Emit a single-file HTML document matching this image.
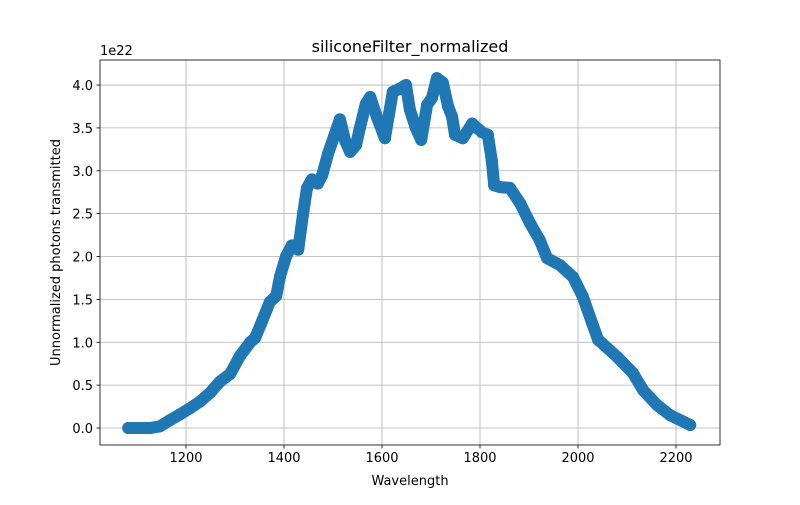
<!DOCTYPE html>
<html><head><meta charset="utf-8"><style>
html,body{margin:0;padding:0;background:#fff;}
svg text{font-family:"DejaVu Sans","Liberation Sans",sans-serif;fill:#000;}
</style></head><body>
<svg id="chart" width="800" height="500" xmlns="http://www.w3.org/2000/svg">
<rect x="0" y="0" width="800" height="500" fill="#fff"/>
<g id="grid"></g>
<g id="series"></g>
<g id="axes"></g>
</svg>
<script>
const wavelengths = [1082,1127,1147,1167,1188,1208,1229,1249,1269,1290,1310,1331,1341,1355,1371,1384,1392,1404,1416,1429,1439,1447,1457,1469,1478,1490,1502,1514,1525,1535,1547,1555,1567,1576,1590,1606,1622,1637,1649,1657,1669,1680,1692,1702,1712,1724,1735,1743,1749,1765,1784,1804,1816,1824,1829,1841,1861,1882,1902,1922,1937,1963,1990,2010,2029,2041,2080,2112,2133,2161,2188,2229];
const photons = [0,0,0.02,0.09,0.16,0.23,0.31,0.41,0.54,0.63,0.84,1.0,1.05,1.24,1.47,1.54,1.77,2.0,2.13,2.08,2.5,2.8,2.9,2.85,2.95,3.2,3.4,3.6,3.35,3.22,3.3,3.5,3.78,3.86,3.62,3.38,3.92,3.96,4.0,3.71,3.5,3.36,3.77,3.85,4.08,4.03,3.75,3.63,3.42,3.38,3.55,3.45,3.42,3.12,2.83,2.81,2.8,2.62,2.39,2.19,1.98,1.9,1.76,1.53,1.22,1.03,0.83,0.64,0.44,0.27,0.15,0.035];
const xTicks = [1200,1400,1600,1800,2000,2200];
const yTicks = [0,0.5,1.0,1.5,2.0,2.5,3.0,3.5,4.0];
const yTickLabels = ["0.0","0.5","1.0","1.5","2.0","2.5","3.0","3.5","4.0"];

const L=100,R=720,T=60,B=445;
const xmin=1024.5,xmax=2289.8,ymin=-0.198,ymax=4.292;
const X=v=>L+(v-xmin)/(xmax-xmin)*(R-L);
const Y=v=>B-(v-ymin)/(ymax-ymin)*(B-T);
const NS="http://www.w3.org/2000/svg";
function mk(tag,attrs,parent){const e=document.createElementNS(NS,tag);for(const k in attrs)e.setAttribute(k,attrs[k]);parent.appendChild(e);return e;}
const grid=document.getElementById('grid'),axes=document.getElementById('axes'),series=document.getElementById('series');

xTicks.forEach(t=>{
  const gl=mk('line',{x1:X(t),x2:X(t),y1:T,y2:B,stroke:'#b0b0b0','stroke-width':0.8},grid);
  
  
  const tk=mk('line',{x1:X(t),x2:X(t),y1:B,y2:B+3.5,stroke:'#000','stroke-width':0.8},axes);
  
  
  const tx=mk('text',{x:X(t),y:B+17,'text-anchor':'middle','font-size':'13'},axes);
  tx.textContent=t;
  
  
});
yTicks.forEach((t,i)=>{
  const gl=mk('line',{x1:L,x2:R,y1:Y(t),y2:Y(t),stroke:'#b0b0b0','stroke-width':0.8},grid);
  
  
  const tk=mk('line',{x1:L-3.5,x2:L,y1:Y(t),y2:Y(t),stroke:'#000','stroke-width':0.8},axes);
  
  
  const tx=mk('text',{x:L-7,y:Y(t)+5,'text-anchor':'end','font-size':'13'},axes);
  tx.textContent=yTickLabels[i];
  
  
});

const pts=wavelengths.map((w,i)=>X(w).toFixed(1)+','+Y(photons[i]).toFixed(1)).join(' ');
const line=mk('polyline',{points:pts,fill:'none',stroke:'#1f77b4','stroke-width':12,'stroke-linejoin':'round','stroke-linecap':'round'},series);


wavelengths.forEach((w,i)=>{
  const c=mk('circle',{cx:X(w),cy:Y(photons[i]),r:6,fill:'#1f77b4'},series);
  
  
});

const frame=mk('rect',{x:L,y:T,width:R-L,height:B-T,fill:'none',stroke:'#000','stroke-width':0.8},axes);


const title=mk('text',{x:(L+R)/2,y:T-8,'text-anchor':'middle','font-size':'16'},axes);
title.textContent='siliconeFilter_normalized';


const xl=mk('text',{x:(L+R)/2,y:485,'text-anchor':'middle','font-size':'13'},axes);
xl.textContent='Wavelength';


const yl=mk('text',{x:0,y:0,'text-anchor':'middle','font-size':'13',transform:'translate(60,'+((T+B)/2)+') rotate(-90)'},axes);
yl.textContent='Unnormalized photons transmitted';


const off=mk('text',{x:L,y:T-5,'font-size':'13'},axes);
off.textContent='1e22';


</script>
</body></html>
